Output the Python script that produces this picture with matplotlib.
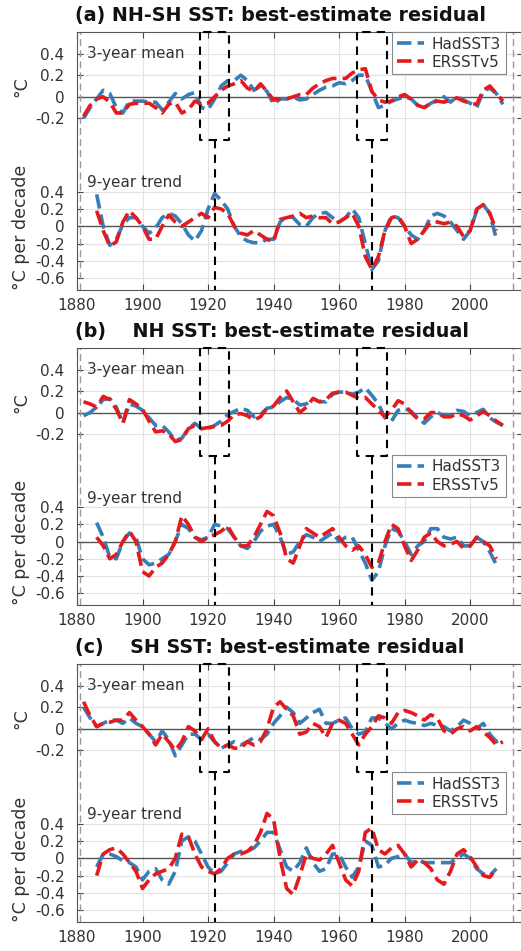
#Residual SST plots, NH-SH / NH / SH, with 3-year mean on top and 9-year trend below
#both parts share one axes, the trend part is shifted down and squeezed

import matplotlib.pyplot as plt
import numpy as np

mean_years = np.arange(1882, 2012, 2)
trend_years = np.arange(1886, 2010, 2)

a_had_mean = [-0.20, -0.10, -0.02, 0.06, 0.03, -0.10, -0.15, -0.04, -0.04, -0.04,
	-0.05, -0.05, -0.12, -0.05, 0.03, -0.02, 0.02, 0.04, -0.10, -0.12,
	-0.02, 0.10, 0.15, 0.15, 0.20, 0.15, 0.06, 0.10, 0.05, -0.07,
	-0.02, -0.02, 0.00, -0.03, -0.02, 0.02, 0.06, 0.09, 0.10, 0.13,
	0.12, 0.15, 0.20, 0.20, 0.05, -0.10, -0.08, -0.04, -0.02, 0.00,
	-0.02, -0.08, -0.10, -0.06, -0.03, 0.00, -0.05, 0.00, -0.03, -0.06,
	-0.10, 0.05, 0.08, 0.03, -0.07]
a_er_mean = [-0.18, -0.08, -0.02, 0.00, -0.05, -0.15, -0.15, -0.07, -0.06, -0.06,
	-0.06, -0.10, -0.15, -0.07, -0.05, -0.15, -0.12, -0.04, -0.07, -0.06,
	0.00, 0.06, 0.10, 0.12, 0.15, 0.08, 0.05, 0.12, 0.05, -0.03,
	-0.02, -0.02, 0.00, 0.02, 0.02, 0.08, 0.12, 0.15, 0.17, 0.17,
	0.17, 0.22, 0.25, 0.26, 0.05, -0.03, -0.05, -0.04, 0.00, 0.02,
	-0.02, -0.08, -0.10, -0.06, -0.04, -0.05, -0.03, -0.01, -0.04, -0.06,
	-0.07, 0.06, 0.10, 0.03, -0.04]
a_had_trend = [0.37, 0.00, -0.22, -0.15, 0.02, 0.10, 0.10, 0.00, -0.08, -0.02,
	0.10, 0.15, 0.12, 0.03, -0.10, -0.17, -0.05, 0.20, 0.38, 0.30,
	0.20, 0.00, -0.12, -0.17, -0.19, -0.19, -0.15, -0.15, 0.05, 0.12,
	0.10, 0.02, 0.00, 0.10, 0.15, 0.16, 0.10, 0.05, 0.10, 0.20,
	0.10, -0.20, -0.50, -0.40, -0.05, 0.12, 0.10, 0.00, -0.10, -0.15,
	-0.05, 0.12, 0.15, 0.12, 0.05, -0.05, -0.15, -0.05, 0.18, 0.25,
	0.15, -0.15]
a_er_trend = [0.18, -0.05, -0.23, -0.18, 0.05, 0.18, 0.10, 0.00, -0.15, -0.15,
	0.00, 0.13, 0.05, 0.00, 0.05, 0.10, 0.15, 0.10, 0.22, 0.20,
	0.15, 0.00, -0.08, -0.10, -0.05, -0.10, -0.15, -0.18, 0.08, 0.10,
	0.12, 0.15, 0.10, 0.12, 0.10, 0.10, 0.03, 0.05, 0.10, 0.15,
	0.00, -0.35, -0.50, -0.35, -0.05, 0.10, 0.12, 0.00, -0.20, -0.15,
	-0.05, 0.05, 0.05, 0.03, 0.05, 0.00, -0.12, -0.05, 0.20, 0.25,
	0.15, -0.05]

b_had_mean = [-0.03, 0.00, 0.05, 0.12, 0.13, 0.05, -0.10, 0.08, 0.06, 0.02,
	-0.05, -0.12, -0.12, -0.18, -0.26, -0.24, -0.15, -0.10, -0.15, -0.15,
	-0.12, -0.08, -0.02, 0.01, 0.04, 0.02, -0.04, -0.02, 0.04, 0.05,
	0.10, 0.14, 0.12, 0.07, 0.08, 0.13, 0.10, 0.10, 0.17, 0.19,
	0.19, 0.17, 0.19, 0.23, 0.16, 0.08, -0.05, -0.08, 0.02, 0.04,
	0.01, -0.05, -0.10, -0.04, 0.00, -0.03, -0.02, 0.02, 0.01, -0.03,
	0.00, 0.03, -0.05, -0.09, -0.12]
b_er_mean = [0.10, 0.08, 0.05, 0.15, 0.12, 0.03, -0.10, 0.12, 0.08, 0.03,
	-0.08, -0.18, -0.17, -0.20, -0.27, -0.25, -0.15, -0.12, -0.15, -0.14,
	-0.13, -0.12, -0.08, -0.02, -0.01, -0.03, -0.07, -0.04, 0.04, 0.06,
	0.14, 0.20, 0.10, 0.00, 0.05, 0.13, 0.10, 0.12, 0.18, 0.19,
	0.19, 0.16, 0.13, 0.14, 0.08, 0.02, -0.04, 0.02, 0.11, 0.08,
	0.00, -0.06, -0.06, 0.00, 0.00, -0.04, -0.04, -0.01, -0.03, -0.07,
	-0.03, 0.01, -0.03, -0.08, -0.12]
b_had_trend = [0.22, 0.05, -0.18, -0.20, 0.00, 0.10, 0.05, -0.20, -0.27, -0.25,
	-0.20, -0.15, 0.00, 0.20, 0.15, 0.05, 0.02, 0.05, 0.20, 0.18,
	0.15, 0.05, -0.05, -0.08, 0.00, 0.12, 0.18, 0.20, 0.05, -0.15,
	-0.12, 0.00, 0.08, 0.05, 0.00, 0.05, 0.10, 0.00, 0.05, 0.05,
	-0.10, -0.25, -0.45, -0.35, -0.05, 0.15, 0.12, 0.00, -0.15, -0.05,
	0.00, 0.15, 0.15, 0.05, 0.03, 0.05, -0.05, -0.05, 0.05, 0.00,
	-0.12, -0.27]
b_er_trend = [0.05, -0.05, -0.20, -0.15, 0.00, 0.12, 0.00, -0.35, -0.40, -0.30,
	-0.25, -0.15, 0.00, 0.30, 0.20, 0.05, 0.00, 0.05, 0.08, 0.12,
	0.18, 0.05, -0.05, -0.05, 0.05, 0.20, 0.35, 0.30, 0.10, -0.20,
	-0.25, -0.05, 0.15, 0.10, 0.05, 0.10, 0.15, 0.05, -0.05, -0.10,
	-0.05, -0.15, -0.30, -0.25, 0.00, 0.20, 0.15, -0.05, -0.22, -0.10,
	0.05, 0.10, 0.00, -0.05, -0.03, 0.00, -0.08, -0.05, 0.05, 0.00,
	-0.05, -0.20]

c_had_mean = [0.20, 0.10, 0.02, 0.05, 0.08, 0.08, 0.05, 0.10, 0.05, 0.02,
	-0.05, -0.12, -0.02, -0.10, -0.25, -0.15, -0.05, -0.05, -0.10, -0.05,
	-0.12, -0.18, -0.15, -0.12, -0.15, -0.12, -0.08, -0.10, -0.05, 0.05,
	0.12, 0.20, 0.15, 0.05, 0.10, 0.15, 0.18, 0.05, 0.05, 0.08,
	0.10, 0.00, -0.05, -0.03, 0.10, 0.10, 0.05, 0.00, 0.05, 0.08,
	0.06, 0.05, 0.03, 0.05, 0.03, 0.02, -0.02, 0.02, 0.08, 0.05,
	0.00, 0.05, -0.05, -0.12, -0.10]
c_er_mean = [0.25, 0.12, 0.02, 0.05, 0.06, 0.08, 0.08, 0.15, 0.08, 0.02,
	-0.05, -0.15, -0.05, -0.12, -0.20, -0.12, 0.02, -0.02, -0.10, 0.00,
	-0.12, -0.18, -0.15, -0.18, -0.18, -0.12, -0.15, -0.12, 0.00, 0.20,
	0.25, 0.18, 0.12, -0.05, -0.03, 0.05, 0.02, -0.08, 0.05, 0.08,
	0.05, -0.05, -0.15, -0.05, 0.02, 0.12, 0.10, 0.05, 0.15, 0.17,
	0.15, 0.12, 0.08, 0.13, 0.10, -0.02, -0.05, 0.00, 0.02, -0.02,
	0.02, -0.03, -0.08, -0.15, -0.12]
c_had_trend = [-0.10, 0.05, 0.05, 0.02, -0.03, -0.05, -0.10, -0.25, -0.15, -0.12,
	-0.25, -0.30, -0.15, 0.20, 0.25, 0.20, 0.05, -0.10, -0.18, -0.15,
	-0.05, 0.05, 0.08, 0.08, 0.12, 0.20, 0.30, 0.30, 0.10, -0.10,
	-0.15, -0.05, 0.12, -0.05, -0.15, -0.12, 0.05, 0.05, -0.10, -0.22,
	-0.10, 0.20, 0.15, -0.10, -0.08, 0.00, 0.02, 0.05, -0.05, -0.02,
	-0.05, -0.05, -0.05, -0.05, -0.05, 0.00, 0.05, 0.00, -0.12, -0.18,
	-0.20, -0.12]
c_er_trend = [-0.20, 0.05, 0.10, 0.12, 0.05, -0.05, -0.15, -0.35, -0.25, -0.18,
	-0.15, -0.12, 0.00, 0.28, 0.25, 0.05, -0.10, -0.15, -0.18, -0.12,
	0.00, 0.05, 0.05, 0.08, 0.15, 0.30, 0.52, 0.45, 0.00, -0.35,
	-0.42, -0.20, 0.05, 0.00, -0.02, 0.05, 0.15, -0.05, -0.25, -0.32,
	-0.15, 0.30, 0.35, 0.10, 0.05, 0.12, 0.15, 0.05, -0.10, -0.02,
	-0.05, -0.12, -0.25, -0.30, -0.15, 0.05, 0.10, 0.02, -0.10, -0.20,
	-0.22, -0.12]

titles = ["(a) NH-SH SST: best-estimate residual",
	"(b)    NH SST: best-estimate residual",
	"(c)    SH SST: best-estimate residual"]
names = ["HadSST3", "ERSSTv5"]
mean_ticks = [0.4, 0.2, 0, -0.2]
trend_ticks = [0.4, 0.2, 0, -0.2, -0.4, -0.6]
windows = [1922, 1970]   #centre years of the highlighted 9-year windows
data_span = [1881, 2013]

BLUE = '#377eb8'
RED = '#e41a1c'
TXT = '#333333'
OFF = -1.2    #where trend zero sits on the shared axes
SC = 0.8      #squeeze for the trend part

plt.rcParams['font.family'] = 'DejaVu Sans'

fig = plt.figure(figsize=(5.21, 9.51), dpi=100)
#axes boxes in pixels (top, bottom) of the 951 tall figure
boxes = [(32, 290), (348, 605), (664, 922)]
legend_tops = [1.0, 0.584, 0.581]
panels = [(a_had_mean, a_er_mean, a_had_trend, a_er_trend),
	(b_had_mean, b_er_mean, b_had_trend, b_er_trend),
	(c_had_mean, c_er_mean, c_had_trend, c_er_trend)]

for i in range(3):
	top, bot = boxes[i]
	H = 951.0
	ax = fig.add_axes([77/521., 1-bot/H, 1.003-77/521., (bot-top)/H])
	hm, em, ht, et = panels[i]
	lh, = ax.plot(mean_years, hm, color=BLUE, lw=2.6, dashes=(4, 1.7))
	le, = ax.plot(mean_years, em, color=RED, lw=2.6, dashes=(4, 1.7))
	ax.plot(trend_years, OFF + SC*np.array(ht), color=BLUE, lw=2.6, dashes=(4, 1.7))
	ax.plot(trend_years, OFF + SC*np.array(et), color=RED, lw=2.6, dashes=(4, 1.7))
	#zero lines
	ax.axhline(0, color='#555555', lw=1, zorder=1)
	ax.axhline(OFF, color='#555555', lw=1, zorder=1)
	#grey lines at the ends of the data span
	for yr in data_span:
		ax.axvline(yr, color='#999999', lw=1, dashes=(5, 3), zorder=1)
	#dashed window boxes
	for c in windows:
		ax.plot([c-4.5, c-4.5, c+4.5, c+4.5, c-4.5], [0.6, -0.4, -0.4, 0.6, 0.6],
			color='k', lw=1.5, dashes=(4, 3), clip_on=False, zorder=5)
		ax.plot([c, c], [-0.4, -1.79], color='k', lw=1.5, dashes=(4, 3), zorder=5)
	ax.set_xlim(1880, 2016)
	ax.set_ylim(-1.79, 0.6)
	ax.set_xticks(range(1880, 2020, 20))
	yt = mean_ticks + [OFF + SC*v for v in trend_ticks]
	ax.set_yticks(yt)
	ax.set_yticklabels([('%g' % v) for v in mean_ticks + trend_ticks])
	ax.grid(True, color='#e3e3e3', lw=0.8)
	ax.set_axisbelow(True)
	ax.tick_params(direction='in', length=4, top=True, right=True, labelsize=11,
		colors='#444444', labelcolor=TXT, pad=6)
	ax.tick_params(axis='y', pad=9)
	for s in ax.spines.values():
		s.set_color('#555555')
		s.set_linewidth(0.8)
	ax.text(0.022, 0.917, "3-year mean", transform=ax.transAxes, fontsize=11, color=TXT, va='center')
	ax.text(0.022, 0.416, "9-year trend", transform=ax.transAxes, fontsize=11, color=TXT, va='center')
	ax.text(-0.1256, 0.787, u"\u00b0C", transform=ax.transAxes, fontsize=12.5, color=TXT,
		rotation=90, ha='center', va='center')
	ax.text(-0.1256, 0.244, u"\u00b0C per decade", transform=ax.transAxes, fontsize=12.5, color=TXT,
		rotation=90, ha='center', va='center')
	fig.text(75/521., 1-(top-16.5)/H, titles[i], fontsize=13.8, fontweight='bold',
		color='#111111', ha='left', va='center')
	leg = ax.legend([lh, le], names, loc='upper right', bbox_to_anchor=(0.962, legend_tops[i]),
		borderaxespad=0, fontsize=11, handlelength=1.8, fancybox=False, framealpha=1,
		edgecolor='#888888', borderpad=0.3, labelspacing=0.2, handletextpad=0.5)
	leg.get_frame().set_linewidth(0.8)
	for t in leg.get_texts():
		t.set_color(TXT)

fig.savefig('out.png', dpi=100)
